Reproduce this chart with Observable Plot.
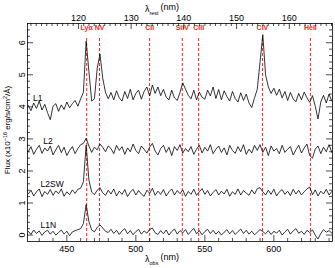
<!DOCTYPE html>
<html>
<head>
<meta charset="utf-8">
<script src="https://cdn.jsdelivr.net/npm/d3@7"></script>
<script src="https://cdn.jsdelivr.net/npm/@observablehq/plot@0.6"></script>
<style>
html,body{margin:0;padding:0;background:#fff;}
</style>
</head>
<body>
<div id="chart"></div>
<script>
// ---- data ----
const zp1 = 3.82;                 // 1 + z
const lamStart = 422, lamStep = 2; // observed wavelength grid (nm)
const lineNames = ["Lyα","NV","CII","SiIV","CIII","CIV","HeII"];
const lineRest  = [121.57, 124.0, 133.5, 139.7, 142.8, 154.9, 164.0];
const obsTicks  = [450, 500, 550, 600];
const restTicks = [120, 130, 140, 150, 160];
const fluxTicks = [0, 1, 2, 3, 4, 5, 6];
const seriesNames = ["L1", "L2", "L2SW", "L1N"];
const labelPos = [[425.5, 4.27], [433, 2.94], [431, 1.6], [431, 0.31]];

const fluxL1 = [4.05,3.88,4.12,3.95,4.18,3.90,4.08,3.82,3.60,4.02,
 4.10,3.86,4.06,3.92,4.15,3.97,4.10,4.20,4.02,4.25,
 4.45,6.05,5.10,4.18,4.25,5.20,5.65,4.90,4.45,4.25,
 4.45,4.22,4.50,4.28,4.18,4.48,4.26,4.55,4.22,4.42,
 4.52,4.24,4.48,4.62,4.34,4.68,4.42,4.62,4.35,4.55,
 4.30,4.22,4.52,4.28,4.20,4.45,4.75,4.55,4.36,4.25,
 4.52,4.22,4.46,4.30,4.24,4.52,4.34,4.62,4.26,4.54,
 4.22,4.50,4.32,4.18,4.48,4.26,4.15,4.44,4.20,4.40,
 4.12,3.98,4.28,4.55,5.40,6.25,5.00,4.62,4.42,4.58,
 4.36,4.55,4.28,4.48,4.20,4.45,4.25,4.16,4.42,4.22,
 4.46,4.28,4.14,4.35,4.02,3.62,4.15,4.36,4.12,4.40,4.18];
const fluxL2 = [2.60,2.76,2.52,2.68,2.80,2.55,2.72,2.62,2.78,2.50,
 2.66,2.80,2.57,2.74,2.48,2.64,2.76,2.54,2.70,2.82,
 2.86,3.02,2.78,2.58,2.74,2.66,2.84,2.74,2.60,2.78,
 2.70,2.54,2.80,2.64,2.76,2.52,2.72,2.60,2.84,2.64,
 2.54,2.78,2.68,2.56,2.74,2.86,2.62,2.50,2.70,2.80,
 2.58,2.74,2.48,2.76,2.64,2.82,2.56,2.70,2.60,2.76,
 2.52,2.68,2.80,2.56,2.74,2.62,2.82,2.54,2.68,2.78,
 2.58,2.72,2.50,2.80,2.64,2.55,2.76,2.60,2.82,2.52,
 2.68,2.56,2.80,2.64,2.82,2.58,2.74,2.48,2.78,2.62,
 2.70,2.54,2.80,2.58,2.68,2.76,2.50,2.66,2.80,2.56,
 2.72,2.84,2.48,2.40,2.68,2.78,2.54,2.74,2.60,2.82,2.58];
const fluxL2SW = [1.28,1.40,1.22,1.35,1.44,1.20,1.36,1.27,1.42,1.24,
 1.38,1.29,1.44,1.21,1.35,1.26,1.41,1.30,1.43,1.46,
 1.66,2.80,1.72,1.34,1.26,1.40,1.48,1.32,1.24,1.40,
 1.28,1.44,1.22,1.37,1.27,1.42,1.20,1.34,1.43,1.25,
 1.39,1.28,1.21,1.40,1.30,1.46,1.24,1.37,1.27,1.42,
 1.22,1.35,1.44,1.25,1.39,1.29,1.41,1.21,1.36,1.27,
 1.43,1.24,1.35,1.45,1.27,1.39,1.22,1.33,1.42,1.25,
 1.37,1.28,1.43,1.21,1.35,1.27,1.44,1.25,1.39,1.31,
 1.24,1.41,1.28,1.45,1.48,1.35,1.25,1.40,1.27,1.43,
 1.22,1.35,1.42,1.27,1.37,1.23,1.43,1.28,1.40,1.25,
 1.35,1.44,1.50,1.26,1.41,1.22,1.37,1.28,1.43,1.25,1.36];
const fluxL1N = [0.12,0.02,0.16,0.05,0.13,-0.01,0.10,0.15,0.03,0.12,
 0.00,0.08,0.16,0.03,0.12,-0.02,0.10,0.14,0.17,0.20,
 0.36,0.95,0.42,0.16,0.10,0.24,0.32,0.22,0.12,0.08,
 0.18,0.05,0.15,0.02,0.13,0.20,0.04,0.14,0.01,0.11,
 0.18,0.03,0.13,0.06,0.17,0.22,0.07,0.02,0.14,0.04,
 0.16,0.00,0.11,0.19,0.03,0.14,0.07,0.17,0.02,0.12,
 0.21,0.04,0.14,0.01,0.11,0.18,0.05,0.15,0.03,0.12,
 0.00,0.09,0.17,0.04,0.14,0.02,0.11,0.19,0.05,0.15,
 0.03,0.12,0.01,0.09,0.17,0.11,0.04,0.14,0.02,0.12,
 0.06,0.15,0.00,0.10,0.18,0.03,0.13,0.20,0.06,0.12,
 0.02,0.15,0.08,0.16,0.00,-0.12,0.05,0.17,0.09,0.14,0.06];

// ---- build tables ----
const allFlux = [fluxL1, fluxL2, fluxL2SW, fluxL1N];
const spectra = [];
allFlux.forEach((arr, s) => arr.forEach((f, i) =>
  spectra.push({series: seriesNames[s], lam: lamStart + lamStep * i, flux: f})));
const lines = lineNames.map((n, i) => ({name: n, obs: lineRest[i] * zp1}));
const seriesLabels = seriesNames.map((n, i) => ({name: n, lam: labelPos[i][0], flux: labelPos[i][1]}));

const xDom = [421.5, 642.5], yDom = [-0.2, 6.6];
const pxPerX = 305 / (xDom[1] - xDom[0]);
const pxPerY = 218 / (yDom[1] - yDom[0]);
const d3range = (a, b, s) => d3.range(a, b + 1e-9, s);

const obsMinor = d3range(430, 640, 10).filter(v => !obsTicks.includes(v));
const restMinor = d3range(111, 168, 1).filter(v => !restTicks.includes(v) && v*zp1 > xDom[0] && v*zp1 < xDom[1]);
const restMajorObs = restTicks.map(v => v * zp1);
const restMinorObs = restMinor.map(v => v * zp1);
const yMinor = d3range(-0.2, 6.6, 0.2).map(v => Math.round(v*10)/10).filter(v => !fluxTicks.includes(v) && v > yDom[0] && v < yDom[1]);

const tkY = (px) => px / pxPerY;
const tkX = (px) => px / pxPerX;

const chart = Plot.plot({
  width: 335, height: 268,
  marginLeft: 27, marginRight: 3, marginTop: 23, marginBottom: 27,
  style: {fontFamily: "Liberation Sans, Arial, sans-serif", fontSize: "9px", background: "#fff"},
  x: {domain: xDom, axis: null},
  y: {domain: yDom, axis: null},
  marks: [
    // red dashed emission lines
    Plot.ruleX(lines, {x: "obs", y1: yDom[0], y2: 6.2, stroke: "#ff2020", strokeWidth: 1, strokeDasharray: "3,2"}),
    Plot.text(lines, {x: "obs", y: 6.47, text: "name", fill: "#ff2020", fontSize: 7, fontWeight: "bold"}),
    // spectra
    Plot.line(spectra, {x: "lam", y: "flux", z: "series", stroke: "#000", strokeWidth: 0.8}),
    Plot.text(seriesLabels, {x: "lam", y: "flux", text: "name", textAnchor: "start", fontSize: 8.5}),
    // inside ticks: bottom
    Plot.ruleX(obsTicks, {x: d => d, y1: yDom[0], y2: yDom[0] + tkY(6), stroke: "#000", strokeWidth: 0.7}),
    Plot.ruleX(obsMinor, {x: d => d, y1: yDom[0], y2: yDom[0] + tkY(3), stroke: "#000", strokeWidth: 0.7}),
    // top
    Plot.ruleX(restMajorObs, {x: d => d, y1: yDom[1] - tkY(6), y2: yDom[1], stroke: "#000", strokeWidth: 0.7}),
    Plot.ruleX(restMinorObs, {x: d => d, y1: yDom[1] - tkY(3), y2: yDom[1], stroke: "#000", strokeWidth: 0.7}),
    // left & right
    Plot.ruleY(fluxTicks, {y: d => d, x1: xDom[0], x2: xDom[0] + tkX(6), stroke: "#000", strokeWidth: 0.7}),
    Plot.ruleY(yMinor, {y: d => d, x1: xDom[0], x2: xDom[0] + tkX(3), stroke: "#000", strokeWidth: 0.7}),
    Plot.ruleY(fluxTicks, {y: d => d, x1: xDom[1] - tkX(6), x2: xDom[1], stroke: "#000", strokeWidth: 0.7}),
    Plot.ruleY(yMinor, {y: d => d, x1: xDom[1] - tkX(3), x2: xDom[1], stroke: "#000", strokeWidth: 0.7}),
    // tick labels
    Plot.axisX({anchor: "bottom", ticks: obsTicks, tickSize: 0, tickPadding: 4, label: null, fontSize: 9}),
    Plot.axisX({anchor: "top", ticks: restMajorObs, tickFormat: d => Math.round(d / zp1), tickSize: 0, tickPadding: 3, label: null, fontSize: 9}),
    Plot.axisY({anchor: "left", ticks: fluxTicks, tickFormat: d => String(d), tickSize: 0, tickPadding: 3, tickRotate: -90, label: null, fontSize: 9}),
    Plot.frame({stroke: "#000", strokeWidth: 0.8})
  ]
});

const svg = d3.select(chart);
function lambdaTitle(x, y, sub) {
  const t = svg.append("text").attr("x", x).attr("y", y)
    .attr("font-family", "Liberation Sans, Arial, sans-serif").attr("font-size", 9).attr("fill", "#000");
  t.append("tspan").text("λ");
  t.append("tspan").attr("dy", 2.5).attr("font-size", 5.5).text(sub);
  t.append("tspan").attr("dy", -4.5).attr("dx", 2).text("(nm)");
}
lambdaTitle(162, 12, "rest");
lambdaTitle(162, 262, "obs");

const yt = svg.append("text")
  .attr("transform", "translate(10,130) rotate(-90)")
  .attr("text-anchor", "middle")
  .attr("font-family", "Liberation Sans, Arial, sans-serif").attr("font-size", 8).attr("fill", "#000");
yt.append("tspan").text("Flux (x10");
yt.append("tspan").attr("dy", -3).attr("font-size", 5.5).text("−16");
yt.append("tspan").attr("dy", 3).text(" erg/s/cm");
yt.append("tspan").attr("dy", -3).attr("font-size", 5.5).text("2");
yt.append("tspan").attr("dy", 3).text("/Å)");

document.getElementById("chart").appendChild(chart);
</script>
</body>
</html>
